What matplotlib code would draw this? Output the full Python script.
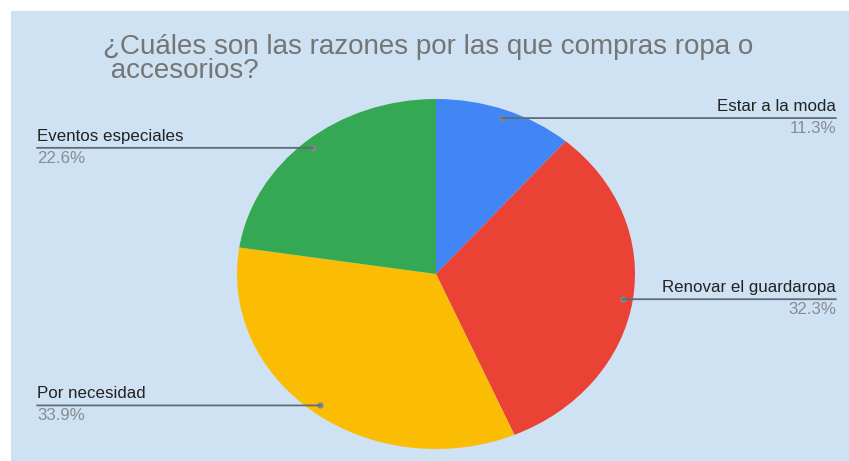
import numpy as np
import matplotlib.pyplot as plt
import matplotlib.transforms as mtransforms

# survey answers (share of responses, %)
labels = ["Estar a la moda", "Renovar el guardaropa", "Por necesidad", "Eventos especiales"]
shares = [11.3, 32.3, 33.9, 22.6]
colors = ["#4285f4", "#ea4335", "#fbbc04", "#34a853"]
title_lines = ["¿Cuáles son las razones por las que compras ropa o", " accesorios?"]

plt.rcParams['font.family'] = ['Liberation Sans', 'DejaVu Sans']

W, H = 849, 461
fig = plt.figure(figsize=(W / 100, H / 100), dpi=100, facecolor="white")

# light blue chart panel
bg = fig.add_axes([11 / W, 0, (W - 11) / W, (H - 11) / H])
bg.set_facecolor("#cfe2f3")
bg.set_xticks([])
bg.set_yticks([])
for s in bg.spines.values():
    s.set_visible(False)

fig.text(103 / W, 1 - 54 / H, title_lines[0], fontsize=20, color="#757575",
         ha="left", va="baseline")
fig.text(103 / W, 1 - 78 / H, title_lines[1], fontsize=20, color="#757575",
         ha="left", va="baseline")

# pie (stretched horizontally, like the source chart)
cx, cy, rx, ry = 436, 274, 199, 175
ax = fig.add_axes([(cx - rx) / W, (H - cy - ry) / H, 2 * rx / W, 2 * ry / H])
wedges, _ = ax.pie(shares, colors=colors, startangle=90, counterclock=False,
                   radius=1.0, wedgeprops=dict(linewidth=0))
ax.set_aspect("auto")
ax.set_xlim(-1, 1)
ax.set_ylim(-1, 1)
ax.axis("off")

blend = mtransforms.blended_transform_factory(fig.transFigure, ax.transData)
line_col = "#5f6b76"
for w, lab, pct in zip(wedges, labels, shares):
    mid = np.deg2rad((w.theta1 + w.theta2) / 2)
    xd, yd = 0.95 * np.cos(mid), 0.95 * np.sin(mid)
    right = xd > 0
    edge = 836 / W if right else 37 / W
    ha = "right" if right else "left"
    ax.annotate("", xy=(xd, yd), xytext=(edge, yd), textcoords=blend,
                arrowprops=dict(arrowstyle="-", color=line_col, lw=1.3,
                                shrinkA=0, shrinkB=0))
    ax.plot([xd], [yd], "o", ms=4.5, color="#7d8791", mec="none", clip_on=False)
    ax.annotate(lab, xy=(edge, yd), xycoords=blend, xytext=(0, 3),
                textcoords="offset points", ha=ha, va="bottom",
                fontsize=12.2, color="#222222")
    ax.annotate(f"{pct:.1f}%", xy=(edge, yd), xycoords=blend, xytext=(0, -2),
                textcoords="offset points", ha=ha, va="top",
                fontsize=12.2, color="#858c94")

fig.savefig("out.png", dpi=100, facecolor="white")
